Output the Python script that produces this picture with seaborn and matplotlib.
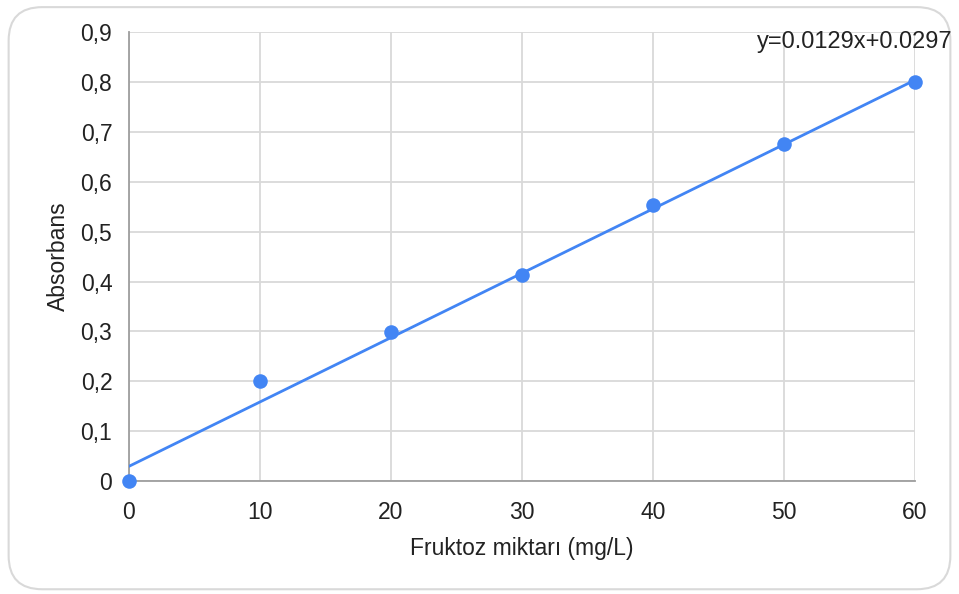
import matplotlib
matplotlib.use("Agg")
import matplotlib.pyplot as plt
from matplotlib.patches import FancyBboxPatch
import numpy as np
import pandas as pd
import seaborn as sns

# data
fruktoz = [0, 10, 20, 30, 40, 50, 60]
absorbans = [0.0, 0.200, 0.298, 0.413, 0.553, 0.675, 0.800]
slope = 0.0129
intercept = 0.0297
y_ticks = [0, 0.1, 0.2, 0.3, 0.4, 0.5, 0.6, 0.7, 0.8, 0.9]
x_ticks = [0, 10, 20, 30, 40, 50, 60]

df = pd.DataFrame({"x": fruktoz, "y": absorbans})

sns.set_style("white")
plt.rcParams["font.family"] = ["Liberation Sans", "DejaVu Sans"]

blue = "#4285F4"
fs = 16.5

fig = plt.figure(figsize=(9.59, 5.94), dpi=100)
# rounded card border, kept behind the axes
card = FancyBboxPatch((0.009, 0.008), 0.982, 0.98,
                      boxstyle="round,pad=0,rounding_size=0.035",
                      transform=fig.transFigure, facecolor="white",
                      edgecolor="#d9d9d9", linewidth=1.5,
                      mutation_aspect=959 / 594, zorder=-10)
fig.patches.append(card)

ax = fig.add_axes([0.1345, 0.19, 0.8195, 0.756])
ax.set_zorder(5)
ax.set_facecolor("none")

# trendline
line_x = np.array([min(fruktoz), max(fruktoz)])
ax.plot(line_x, slope * line_x + intercept, color=blue, lw=2, zorder=3)

sns.scatterplot(data=df, x="x", y="y", ax=ax, color=blue, s=110,
                edgecolor=blue, linewidth=0, zorder=4, clip_on=False)

ax.set_xlim(0, 60)
ax.set_ylim(0, 0.9)
ax.set_xticks(x_ticks)
ax.set_yticks(y_ticks)
ax.set_yticklabels([("%g" % v).replace(".", ",") for v in y_ticks])
ax.tick_params(axis="both", labelsize=fs, length=0, colors="#222222")
ax.tick_params(axis="x", pad=14)
ax.tick_params(axis="y", pad=12)

ax.grid(True, color="#d9d9d9", lw=1.3)
for side in ["top", "right"]:
    ax.spines[side].set_visible(False)
for side in ["left", "bottom"]:
    ax.spines[side].set_color("#9e9e9e")
    ax.spines[side].set_linewidth(1.3)

ax.set_xlabel("Fruktoz miktarı (mg/L)", fontsize=fs, color="#222222", labelpad=10)
ax.set_ylabel("Absorbans", fontsize=fs, color="#222222", labelpad=8)

ax.annotate("y=%.4fx+%.4f" % (slope, intercept), xy=(60, 0.88),
            xytext=(38, 0), textcoords="offset pixels", fontsize=17,
            ha="right", va="center", color="#222222", annotation_clip=False)

fig.savefig("out.png", dpi=100)
